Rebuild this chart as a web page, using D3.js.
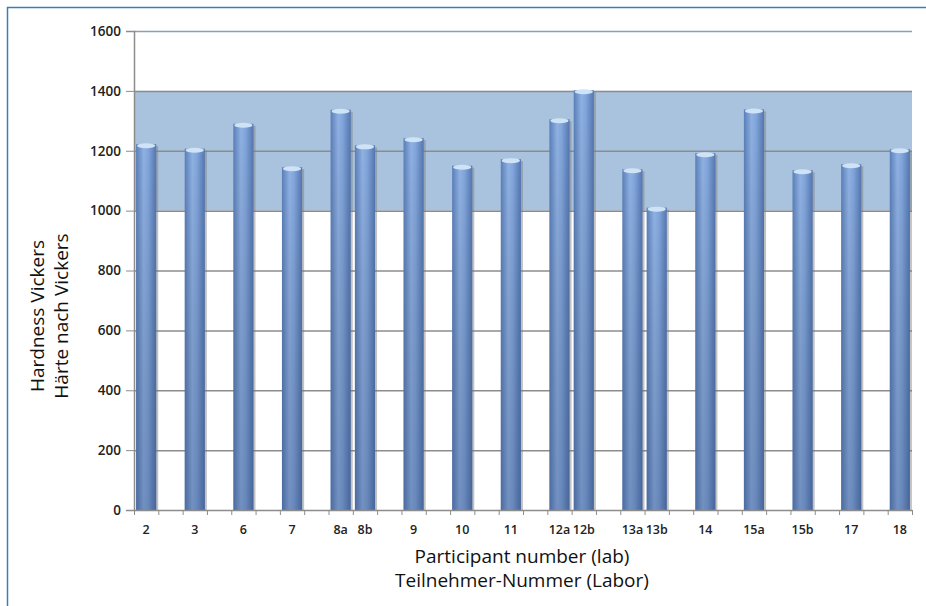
<!DOCTYPE html>
<html>
<head>
<meta charset="utf-8">
<script src="https://cdn.jsdelivr.net/npm/d3@7/dist/d3.min.js"></script>
<style>
  body { margin: 0; background: #fff; }
  text { font-family: "Open Sans", "Noto Sans", sans-serif; }
</style>
</head>
<body>
<div id="plot"></div>
<script>
// 32 slots on the x axis, empty strings are unused slots
var labels = ["2", "", "3", "", "6", "", "7", "", "8a", "8b", "", "9", "", "10", "", "11",
  "", "12a", "12b", "", "13a", "13b", "", "14", "", "15a", "", "15b", "", "17", "", "18"]
var values = [1222, null, 1207, null, 1290, null, 1145, null, 1337, 1218, null, 1242, null, 1150, null, 1172,
  null, 1305, 1402, null, 1138, 1010, null, 1192, null, 1338, null, 1135, null, 1155, null, 1205]
var yTicks = [0, 200, 400, 600, 800, 1000, 1200, 1400, 1600]
var bandRange = [1000, 1400]

var margin = { top: 31, right: 14, bottom: 96, left: 134 }
  , width = 926 - margin.left - margin.right
  , height = 606 - margin.top - margin.bottom

var root = d3.select("#plot")
  .append("svg")
  .attr("width", 926)
  .attr("height", 606)

// frame lines (top and left)
root.append("line").attr("x1", 7).attr("x2", 926).attr("y1", 7.5).attr("y2", 7.5)
  .attr("stroke", "#3a7cc0").attr("stroke-width", 1.5)
root.append("line").attr("x1", 7.5).attr("x2", 7.5).attr("y1", 7).attr("y2", 606)
  .attr("stroke", "#3a7cc0").attr("stroke-width", 1.5)

var defs = root.append("defs")
var grad = defs.append("linearGradient").attr("id", "cyl")
  .attr("x1", "0%").attr("x2", "100%").attr("y1", "0%").attr("y2", "0%")
grad.append("stop").attr("offset", "0%").attr("stop-color", "#5a7fb9")
grad.append("stop").attr("offset", "38%").attr("stop-color", "#8fb1e3")
grad.append("stop").attr("offset", "60%").attr("stop-color", "#82a6dc")
grad.append("stop").attr("offset", "100%").attr("stop-color", "#5477b1")

var shade = defs.append("linearGradient").attr("id", "shade")
  .attr("x1", "0%").attr("x2", "0%").attr("y1", "0%").attr("y2", "100%")
shade.append("stop").attr("offset", "0%").attr("stop-color", "#000").attr("stop-opacity", 0)
shade.append("stop").attr("offset", "100%").attr("stop-color", "#1a2e5a").attr("stop-opacity", 0.25)

var svg = root.append("g")
  .attr("transform", "translate(" + margin.left + "," + margin.top + ")")

var xScale = d3.scaleBand()
  .domain(d3.range(labels.length))
  .range([0, width])
  .paddingInner(0.17)
  .paddingOuter(0.085)

var yScale = d3.scaleLinear()
  .domain([0, 1600])
  .range([height, 0])

// shaded tolerance band
svg.append("rect")
  .attr("x", 0)
  .attr("width", width)
  .attr("y", yScale(bandRange[1]))
  .attr("height", yScale(bandRange[0]) - yScale(bandRange[1]))
  .attr("fill", "#a9c3de")

// grid lines
svg.selectAll(".grid")
  .data(yTicks.slice(1))
  .enter()
  .append("line")
  .attr("class", "grid")
  .attr("x1", 0).attr("x2", width)
  .attr("y1", d => yScale(d) + 0.5).attr("y2", d => yScale(d) + 0.5)
  .attr("stroke", d => d == 1600 ? "#8a9cb8" : "#8c8c8c")
  .attr("stroke-width", 1.5)

// bars
var bars = svg.selectAll(".bar")
  .data(values.map((v, i) => ({ i: i, v: v })).filter(d => d.v != null))
  .enter()
  .append("g")
  .attr("class", "bar")

bars.append("rect")
  .attr("x", d => xScale(d.i) + 2)
  .attr("width", xScale.bandwidth())
  .attr("y", d => yScale(d.v) + 2)
  .attr("height", d => height - yScale(d.v) - 2)
  .attr("fill", "#7a7a7a")
  .attr("opacity", 0.45)

bars.append("rect")
  .attr("x", d => xScale(d.i))
  .attr("width", xScale.bandwidth())
  .attr("y", d => yScale(d.v))
  .attr("height", d => height - yScale(d.v))
  .attr("fill", "url(#cyl)")

bars.append("rect")
  .attr("x", d => xScale(d.i))
  .attr("width", xScale.bandwidth())
  .attr("y", d => yScale(d.v))
  .attr("height", d => height - yScale(d.v))
  .attr("fill", "url(#shade)")

bars.append("ellipse")
  .attr("cx", d => xScale(d.i) + xScale.bandwidth() / 2)
  .attr("cy", d => yScale(d.v) + 1.5)
  .attr("rx", xScale.bandwidth() / 2 - 1)
  .attr("ry", 2.5)
  .attr("fill", "#cfe3f7")

// axes
var xAxis = svg.append("g")
  .attr("class", "x axis")
  .attr("transform", "translate(0, " + height + ")")
  .call(d3.axisBottom(xScale).tickSize(0).tickFormat(i => labels[i]))

xAxis.select(".domain").attr("stroke", "#8c8c8c").attr("stroke-width", 1.5)
xAxis.selectAll("text")
  .attr("dy", "1.7em")
  .style("font-size", "12.5px")
  .style("font-weight", "600")
  .attr("fill", "#222")

// x tick marks at slot boundaries
svg.selectAll(".xtick")
  .data(d3.range(labels.length + 1))
  .enter()
  .append("line")
  .attr("class", "xtick")
  .attr("x1", i => i * xScale.step() + 0.5).attr("x2", i => i * xScale.step() + 0.5)
  .attr("y1", height).attr("y2", height + 5)
  .attr("stroke", "#8c8c8c")

var yAxis = svg.append("g")
  .attr("class", "y axis")
  .call(d3.axisLeft(yScale).tickValues(yTicks).tickFormat(d3.format("d")).tickSize(8).tickPadding(5))

yAxis.select(".domain").attr("stroke", "#8c8c8c").attr("stroke-width", 1.5)
yAxis.selectAll(".tick line").attr("stroke", "#8c8c8c")
yAxis.selectAll("text")
  .style("font-size", "13.5px")
  .style("font-weight", "600")
  .attr("fill", "#222")

// axis titles
root.append("text")
  .attr("transform", "translate(44, 316) rotate(-90)")
  .attr("text-anchor", "middle")
  .style("font-size", "19px")
  .attr("fill", "#111")
  .text("Hardness Vickers")

root.append("text")
  .attr("transform", "translate(68, 316) rotate(-90)")
  .attr("text-anchor", "middle")
  .style("font-size", "19px")
  .attr("fill", "#111")
  .text("Härte nach Vickers")

root.append("text")
  .attr("x", 522).attr("y", 563)
  .attr("text-anchor", "middle")
  .style("font-size", "19px")
  .attr("fill", "#111")
  .text("Participant number (lab)")

root.append("text")
  .attr("x", 522).attr("y", 587)
  .attr("text-anchor", "middle")
  .style("font-size", "19px")
  .attr("fill", "#111")
  .text("Teilnehmer-Nummer (Labor)")
</script>
</body>
</html>
